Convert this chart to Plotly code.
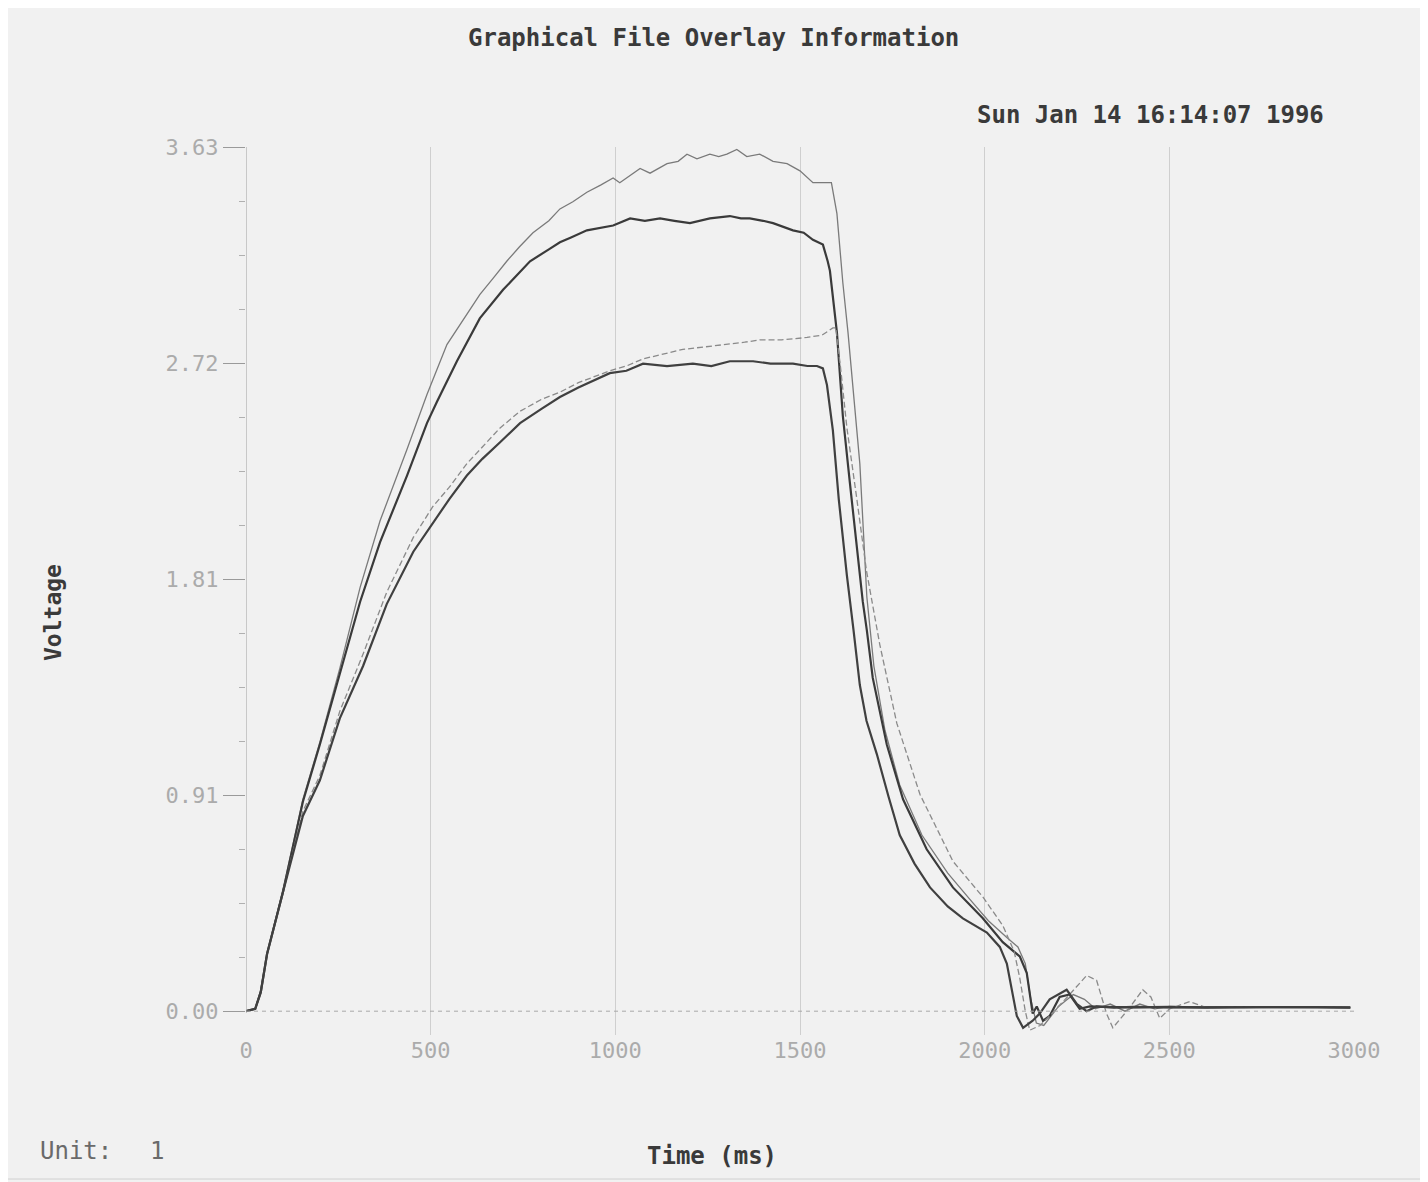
import plotly.graph_objects as go

# ---------------- data ----------------
# Series A: thin grey, highest curve
a_t = [0, 25, 40, 57, 100, 154, 200, 254, 309, 363, 436, 490, 544, 600, 633, 670, 706, 740, 777, 820,
       850, 885, 923, 960, 994, 1012, 1040, 1067, 1094, 1140, 1170, 1194, 1221, 1256, 1280, 1302, 1329,
       1356, 1391, 1427, 1465, 1500, 1535, 1560, 1585, 1600, 1616, 1630, 1662, 1681, 1700, 1730, 1770,
       1830, 1900, 1960, 2010, 2060, 2090, 2110, 2125, 2140, 2160, 2200, 2240, 2270, 2300, 2340, 2380,
       2420, 2460, 2500, 2600, 2700, 2800, 2900, 2990]
a_v = [0.00, 0.01, 0.09, 0.24, 0.51, 0.89, 1.13, 1.44, 1.78, 2.06, 2.36, 2.59, 2.80, 2.93, 3.01, 3.08,
       3.15, 3.21, 3.27, 3.32, 3.37, 3.40, 3.44, 3.47, 3.50, 3.48, 3.51, 3.54, 3.52, 3.56, 3.57, 3.60,
       3.58, 3.60, 3.59, 3.60, 3.62, 3.59, 3.60, 3.57, 3.56, 3.53, 3.48, 3.48, 3.48, 3.35, 3.06, 2.85,
       2.30, 1.74, 1.45, 1.18, 0.95, 0.74, 0.58, 0.47, 0.38, 0.31, 0.27, 0.20, 0.05, -0.05, -0.06, 0.02,
       0.07, 0.05, 0.01, 0.03, 0.00, 0.03, 0.01, 0.02, 0.018, 0.015, 0.018, 0.016, 0.015]

# Series B: thick dark, upper curve
b_t = [0, 25, 40, 57, 100, 154, 200, 254, 309, 363, 436, 490, 517, 571, 633, 696, 740, 769, 820, 850,
       880, 923, 994, 1040, 1080, 1121, 1160, 1202, 1256, 1310, 1340, 1364, 1400, 1427, 1481, 1510, 1535,
       1562, 1575, 1581, 1600, 1616, 1635, 1654, 1670, 1681, 1697, 1735, 1779, 1843, 1914, 1995, 2049,
       2095, 2114, 2130, 2141, 2158, 2176, 2203, 2230, 2257, 2285, 2320, 2400, 2500, 2600, 2700, 2800,
       2900, 2990]
b_v = [0.00, 0.01, 0.08, 0.24, 0.50, 0.88, 1.12, 1.42, 1.72, 1.97, 2.25, 2.47, 2.56, 2.73, 2.91, 3.03,
       3.10, 3.15, 3.20, 3.23, 3.25, 3.28, 3.30, 3.33, 3.32, 3.33, 3.32, 3.31, 3.33, 3.34, 3.33, 3.33,
       3.32, 3.31, 3.28, 3.27, 3.24, 3.22, 3.15, 3.11, 2.85, 2.50, 2.22, 1.95, 1.72, 1.60, 1.40, 1.12,
       0.89, 0.68, 0.52, 0.39, 0.29, 0.23, 0.16, -0.01, 0.02, -0.04, -0.02, 0.06, 0.07, 0.01, 0.02, 0.018,
       0.016, 0.018, 0.015, 0.017, 0.016, 0.015, 0.016]

# Series C: thin grey dashed, lower curve
c_t = [0, 25, 40, 57, 100, 154, 200, 254, 317, 381, 453, 506, 550, 598, 640, 688, 742, 800, 850, 900,
       985, 1030, 1075, 1130, 1183, 1240, 1302, 1350, 1391, 1450, 1519, 1560, 1589, 1597, 1610, 1627,
       1654, 1680, 1716, 1762, 1825, 1914, 1995, 2049, 2080, 2095, 2110, 2122, 2150, 2176, 2230, 2276,
       2303, 2330, 2347, 2390, 2428, 2450, 2474, 2501, 2555, 2600, 2700, 2800, 2900, 2990]
c_v = [0.00, 0.01, 0.08, 0.24, 0.50, 0.84, 0.99, 1.26, 1.50, 1.76, 1.99, 2.12, 2.20, 2.30, 2.37, 2.45,
       2.52, 2.57, 2.60, 2.64, 2.69, 2.71, 2.74, 2.76, 2.78, 2.79, 2.80, 2.81, 2.82, 2.82, 2.83, 2.84,
       2.87, 2.87, 2.70, 2.45, 2.15, 1.85, 1.54, 1.21, 0.91, 0.63, 0.48, 0.36, 0.25, 0.14, 0.00, -0.08,
       -0.06, -0.02, 0.07, 0.15, 0.13, -0.01, -0.07, 0.01, 0.09, 0.06, -0.03, 0.01, 0.04, 0.015, 0.018,
       0.016, 0.017, 0.015]

# Series D: thick dark, lower curve
d_t = [0, 25, 40, 57, 100, 154, 200, 254, 317, 381, 453, 506, 550, 598, 640, 688, 742, 800, 850, 900,
       985, 1030, 1075, 1140, 1210, 1260, 1310, 1373, 1420, 1481, 1520, 1546, 1562, 1573, 1589, 1605,
       1627, 1645, 1662, 1680, 1708, 1740, 1770, 1810, 1852, 1900, 1941, 2006, 2041, 2060, 2087, 2104,
       2130, 2149, 2176, 2222, 2250, 2276, 2303, 2350, 2400, 2500, 2600, 2700, 2800, 2900, 2990]
d_v = [0.00, 0.01, 0.08, 0.24, 0.50, 0.82, 0.97, 1.23, 1.45, 1.71, 1.93, 2.05, 2.15, 2.25, 2.32, 2.39,
       2.47, 2.53, 2.58, 2.62, 2.68, 2.69, 2.72, 2.71, 2.72, 2.71, 2.73, 2.73, 2.72, 2.72, 2.71, 2.71,
       2.70, 2.63, 2.44, 2.15, 1.83, 1.60, 1.37, 1.22, 1.08, 0.90, 0.74, 0.62, 0.52, 0.44, 0.39, 0.33,
       0.27, 0.20, -0.02, -0.07, -0.04, -0.01, 0.05, 0.09, 0.03, 0.00, 0.02, 0.015, 0.018, 0.016, 0.017,
       0.015, 0.016, 0.017, 0.015]

y_tickvals = [0.0, 0.9075, 1.815, 2.7225, 3.63]
y_ticktext = ["0.00", "0.91", "1.81", "2.72", "3.63"]
x_tickvals = [0, 500, 1000, 1500, 2000, 2500, 3000]
x_ticktext = ["0", "500", "1000", "1500", "2000", "2500", "3000"]

title_text = "Graphical File Overlay Information"
date_text = "Sun Jan 14 16:14:07 1996"
x_title = "Time (ms)"
y_title = "Voltage"
unit_label = "Unit:"
unit_value = "1"

# ---------------- layout geometry ----------------
OFF = 8                   # default page body margin
W, H = 1428 - OFF, 1182 - OFF
L, R = 246, 1354          # page px for x = 0 .. 3000
T, B = 147, 1035          # page px for y = 3.63 .. -0.1
MONO = "DejaVu Sans Mono"
BG = "#f1f1f1"


def px(xp):
    return (xp - L) / (R - L)


def py(yp):
    return (B - yp) / (B - T)


fig = go.Figure()

styles = [
    (a_t, a_v, dict(color="#7a7a7a", width=1.3)),
    (b_t, b_v, dict(color="#3a3a3a", width=2.2)),
    (c_t, c_v, dict(color="#8a8a8a", width=1.3, dash="6px,3px")),
    (d_t, d_v, dict(color="#404040", width=2.2)),
]
for t, v, ln in styles:
    fig.add_trace(go.Scatter(x=t, y=v, mode="lines", line=ln, showlegend=False,
                             hoverinfo="skip"))

fig.update_layout(
    width=W, height=H,
    margin=dict(l=L - OFF, r=W - (R - OFF), t=T - OFF, b=H - (B - OFF), pad=0),
    paper_bgcolor=BG, plot_bgcolor=BG,
    font=dict(family=MONO, size=22, color="#333333"),
    xaxis=dict(range=[0, 3000], tickvals=x_tickvals, ticktext=x_ticktext,
               showgrid=True, gridcolor="#cfcfcf", gridwidth=1,
               zeroline=False, showline=False, ticks="",
               tickfont=dict(family=MONO, size=22, color="#ababab")),
    yaxis=dict(range=[-0.1, 3.63], tickvals=y_tickvals, ticktext=y_ticktext,
               showgrid=False, zeroline=False, showline=False,
               ticks="outside", ticklen=22, tickcolor="#9a9a9a", tickwidth=1,
               minor=dict(tickmode="array",
                          tickvals=[0.226875 * k for k in range(1, 16) if k % 4 != 0],
                          ticks="outside", ticklen=6, tickcolor="#b0b0b0", showgrid=False),
               tickfont=dict(family=MONO, size=22, color="#ababab")),
)

# y axis line and dashed zero line
fig.add_shape(type="line", xref="x", yref="y", x0=0, x1=0, y0=0, y1=3.63,
              line=dict(color="#a0a0a0", width=1))
fig.add_shape(type="line", xref="x", yref="y", x0=0, x1=3000, y0=0, y1=0,
              line=dict(color="#a8a8a8", width=1, dash="4px,4px"))
# scan frame
fig.add_shape(type="rect", xref="paper", yref="paper",
              x0=px(3), x1=px(1425), y0=py(1179), y1=py(3),
              line=dict(color="#d0d0d0", width=1))

ann = [
    (title_text, 713, 38, "center", True, "#3a3a3a"),
    (date_text, 1150, 115, "center", True, "#3a3a3a"),
    (x_title, 712, 1156, "center", True, "#3a3a3a"),
    (unit_label, 38, 1151, "left", False, "#6a6a6a"),
    (unit_value, 148, 1151, "left", False, "#6a6a6a"),
]
for text, xp, yp, anchor, bold, col in ann:
    fig.add_annotation(text=f"<b>{text}</b>" if bold else text,
                       xref="paper", yref="paper", x=px(xp), y=py(yp),
                       xanchor=anchor, yanchor="middle", showarrow=False,
                       font=dict(family=MONO, size=24, color=col))
fig.add_annotation(text=f"<b>{y_title}</b>", xref="paper", yref="paper",
                   x=px(53), y=py(613), textangle=-90, showarrow=False,
                   xanchor="center", yanchor="middle",
                   font=dict(family=MONO, size=23, color="#3a3a3a"))

fig.write_html("out.html")
